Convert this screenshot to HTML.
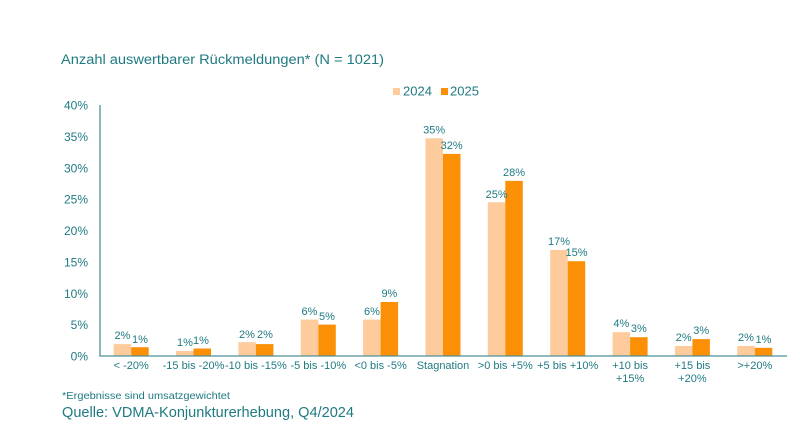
<!DOCTYPE html>
<html><head><meta charset="utf-8"><style>
html,body{margin:0;padding:0;background:#fff;}
svg{display:block;}
text{font-family:"Liberation Sans",Arial,sans-serif;fill:#1f7a82;}
</style></head><body>
<svg width="800" height="442" viewBox="0 0 800 442" xmlns="http://www.w3.org/2000/svg">
<rect width="800" height="442" fill="#fff"/>
<text x="61" y="64" font-size="14.2" textLength="323" lengthAdjust="spacingAndGlyphs">Anzahl auswertbarer Rückmeldungen* (N = 1021)</text>
<!-- legend -->
<rect x="393" y="88" width="7" height="7" fill="#fdcb9c"/>
<text x="403" y="95.5" font-size="13">2024</text>
<rect x="441" y="88" width="7" height="7" fill="#fb9006"/>
<text x="450" y="95.5" font-size="13">2025</text>
<!-- y labels -->
<g font-size="12" text-anchor="end">
<text x="88" y="360.5">0%</text>
<text x="88" y="329.1">5%</text>
<text x="88" y="297.8">10%</text>
<text x="88" y="266.4">15%</text>
<text x="88" y="235">20%</text>
<text x="88" y="203.6">25%</text>
<text x="88" y="172.3">30%</text>
<text x="88" y="140.9">35%</text>
<text x="88" y="109.5">40%</text>
</g>
<!-- bars -->
<g>
<rect x="113.7" y="344.1" width="17.5" height="11.9" fill="#fdcb9c"/><rect x="131.2" y="347.2" width="17.5" height="8.8" fill="#fb9006"/>
<rect x="176" y="351" width="17.5" height="5" fill="#fdcb9c"/><rect x="193.5" y="348.5" width="17.5" height="7.5" fill="#fb9006"/>
<rect x="238.4" y="342.2" width="17.5" height="13.8" fill="#fdcb9c"/><rect x="255.9" y="344.1" width="17.5" height="11.9" fill="#fb9006"/>
<rect x="300.8" y="319.6" width="17.5" height="36.4" fill="#fdcb9c"/><rect x="318.3" y="324.6" width="17.5" height="31.4" fill="#fb9006"/>
<rect x="363.1" y="319.6" width="17.5" height="36.4" fill="#fdcb9c"/><rect x="380.6" y="302" width="17.5" height="54" fill="#fb9006"/>
<rect x="425.5" y="138.3" width="17.5" height="217.7" fill="#fdcb9c"/><rect x="443" y="153.9" width="17.5" height="202.1" fill="#fb9006"/>
<rect x="487.8" y="202.3" width="17.5" height="153.7" fill="#fdcb9c"/><rect x="505.3" y="180.9" width="17.5" height="175.1" fill="#fb9006"/>
<rect x="550.2" y="250" width="17.5" height="106" fill="#fdcb9c"/><rect x="567.7" y="261.2" width="17.5" height="94.8" fill="#fb9006"/>
<rect x="612.6" y="332.2" width="17.5" height="23.8" fill="#fdcb9c"/><rect x="630.1" y="337.2" width="17.5" height="18.8" fill="#fb9006"/>
<rect x="674.9" y="346" width="17.5" height="10" fill="#fdcb9c"/><rect x="692.4" y="339.1" width="17.5" height="16.9" fill="#fb9006"/>
<rect x="737.3" y="346" width="17.5" height="10" fill="#fdcb9c"/><rect x="754.8" y="347.8" width="17.5" height="8.2" fill="#fb9006"/>
</g>
<!-- data labels -->
<g font-size="11" text-anchor="middle">
<text x="122.4" y="339">2%</text><text x="140" y="343">1%</text>
<text x="185" y="346">1%</text><text x="201" y="344">1%</text>
<text x="247" y="338">2%</text><text x="265" y="338">2%</text>
<text x="309.5" y="315">6%</text><text x="327" y="320">5%</text>
<text x="372" y="315">6%</text><text x="389.4" y="297">9%</text>
<text x="434.2" y="133.3">35%</text><text x="451.7" y="149">32%</text>
<text x="496.6" y="198">25%</text><text x="514" y="176">28%</text>
<text x="559" y="245">17%</text><text x="576.5" y="256.2">15%</text>
<text x="621.3" y="327">4%</text><text x="638.8" y="332">3%</text>
<text x="683.7" y="341">2%</text><text x="701.2" y="334">3%</text>
<text x="746" y="341">2%</text><text x="763.5" y="343">1%</text>
</g>
<!-- axes -->
<line x1="100" y1="105" x2="100" y2="356.5" stroke="#4d9199" stroke-width="1.3"/>
<line x1="99.4" y1="356" x2="787" y2="356" stroke="#4d9199" stroke-width="1.3"/>
<!-- x labels -->
<g font-size="11" text-anchor="middle">
<text x="131.2" y="369">&lt; -20%</text>
<text x="193.5" y="369">-15 bis -20%</text>
<text x="255.9" y="369">-10 bis -15%</text>
<text x="318.3" y="369">-5 bis -10%</text>
<text x="380.6" y="369">&lt;0 bis -5%</text>
<text x="443" y="369">Stagnation</text>
<text x="505.3" y="369">&gt;0 bis +5%</text>
<text x="567.7" y="369">+5 bis +10%</text>
<text x="630.1" y="369">+10 bis</text>
<text x="630.1" y="382">+15%</text>
<text x="692.4" y="369">+15 bis</text>
<text x="692.4" y="382">+20%</text>
<text x="754.8" y="369">&gt;+20%</text>
</g>
<text x="62" y="399" font-size="10.5" textLength="168" lengthAdjust="spacingAndGlyphs">*Ergebnisse sind umsatzgewichtet</text>
<text x="62" y="417" font-size="15" textLength="292" lengthAdjust="spacingAndGlyphs">Quelle: VDMA-Konjunkturerhebung, Q4/2024</text>
</svg>
</body></html>
